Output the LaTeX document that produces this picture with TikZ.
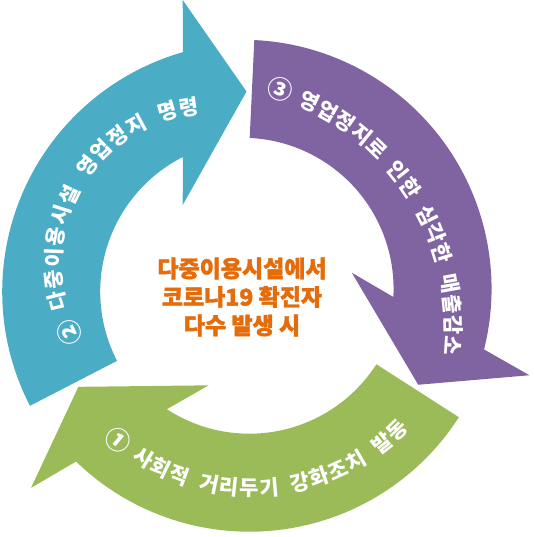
\documentclass[tikz,border=0pt]{standalone}
\usepackage{fontspec}
\newfontfamily\krfont{Noto Sans CJK KR}
\newfontfamily\krheavy{Noto Sans CJK KR}[FakeBold=1.6]
\usetikzlibrary{calc}
\definecolor{cteal}{HTML}{4BACC6}
\definecolor{cpurple}{HTML}{8064A2}
\definecolor{cgreen}{HTML}{9BBB59}
\definecolor{corange}{HTML}{E46C0A}
\begin{document}
\begin{tikzpicture}[x=1pt,y=1pt,
  arctext/.style={text=white, font=\krfont\bfseries\fontsize{21}{22}\selectfont, inner sep=0pt},
  numtext/.style={text=white, font=\krfont\bfseries\fontsize{25}{27}\selectfont, inner sep=0pt},
  centertext/.style={text=corange, font=\krheavy\bfseries\fontsize{23}{28.5}\selectfont, align=center, inner sep=0pt}]
\useasboundingbox (0,0) rectangle (533,537);
% three curved arrows, rotated copies about the common centre
\begin{scope}[shift={(247.7,249.3)}]
  \foreach \ang/\col in {0/cteal, -120/cpurple, 120/cgreen}{
    \begin{scope}[rotate=\ang, shift={(3.5,-3.9)}]
      \fill[\col] (207.3:151) -- (207.3:249)
        arc[start angle=207.3, end angle=105.9, radius=249]
        -- (-68.5,291.6) -- (-4.7,200.1) -- (-68.5,86.6)
        -- (116.9:151)
        arc[start angle=116.9, end angle=207.3, radius=151] -- cycle;
    \end{scope}
  }
\end{scope}
% teal text
\node[numtext, rotate=206-90] (tnum) at ($(211.5,273.5)+(206:158)$) {②};
\foreach \ch/\u [count=\i] in {다/1.55,중/2.55,이/3.55,용/4.55,시/5.55,설/6.55,영/8.1,업/9.1,정/10.1,지/11.1,명/12.65,령/13.65}{
  \pgfmathsetmacro\th{206-7.89*\u}
  \node[arctext, rotate=\th-90] (ta\i) at ($(211.5,273.5)+(\th:158)$) {\ch};
}
% purple text
\node[numtext, rotate=72-90] (pnum) at ($(202.5,208.5)+(72:251)$) {③};
\foreach \ch/\u [count=\i] in {영/1.55,업/2.55,정/3.55,지/4.55,로/5.55,인/7.1,한/8.1,심/9.65,각/10.65,한/11.65,매/13.2,출/14.2,감/15.2,소/16.2}{
  \pgfmathsetmacro\th{72-4.68*\u}
  \node[arctext, rotate=\th-90] (pa\i) at ($(202.5,208.5)+(\th:251)$) {\ch};
}
% green text
\node[numtext, rotate=230.2+90] (gnum) at ($(251.9,257.6)+(230.2:209)$) {①};
\foreach \ch/\u [count=\i] in {사/1.55,회/2.55,적/3.55,거/5.1,리/6.1,두/7.1,기/8.1,강/9.65,화/10.65,조/11.65,치/12.65,발/14.2,동/15.2}{
  \pgfmathsetmacro\th{230.2+5.507*\u}
  \node[arctext, rotate=\th+90] (ga\i) at ($(251.9,257.6)+(\th:209)$) {\ch};
}
% centre text
\node[centertext] (center) at (242,240) {다중이용시설에서\\코로나19 확진자\\다수 발생 시};
\end{tikzpicture}
\end{document}
